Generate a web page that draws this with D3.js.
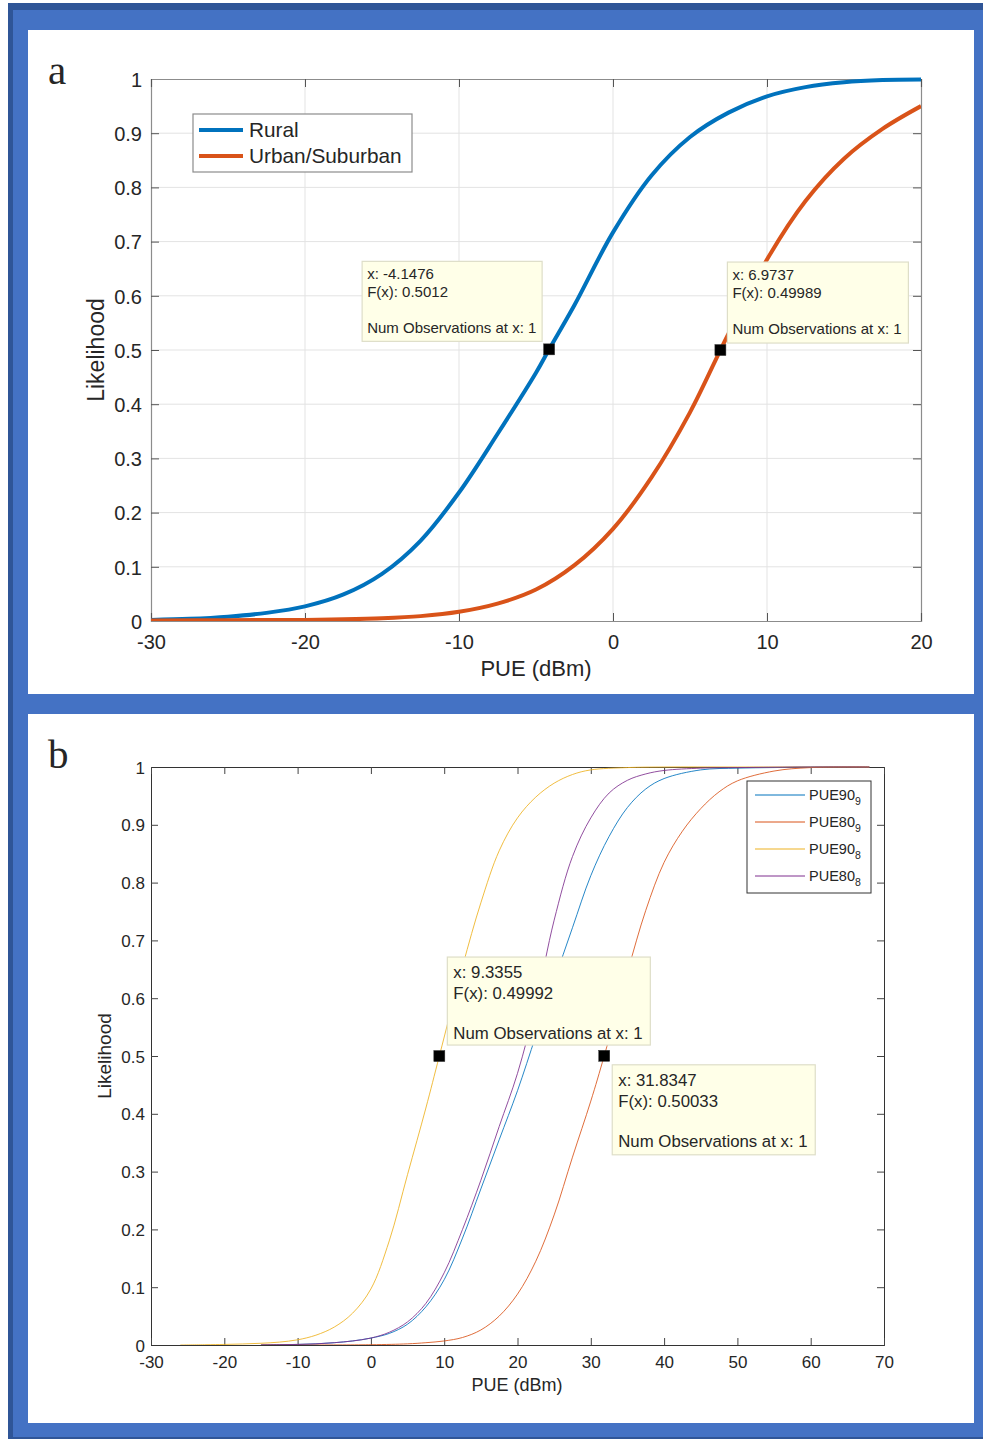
<!DOCTYPE html>
<html><head><meta charset="utf-8">
<script src="https://cdn.jsdelivr.net/npm/d3@7"></script>
<style>
html,body{margin:0;padding:0;background:#fff;}
svg{display:block;}
text{font-family:"Liberation Sans",Arial,Helvetica,sans-serif;fill:#262626;}
</style>
</head><body>
<script>
// ---- Panel a: PUE CDF by environment ----
const ruralX = [-30, -27.5, -25, -22.5, -20, -17.5, -15, -12.5, -10, -7.5, -5, -4.1476, -2.5, 0, 2.5, 5, 7.5, 10, 12.5, 15, 17.5, 20];
const ruralF = [0.002, 0.004, 0.008, 0.015, 0.027, 0.049, 0.087, 0.148, 0.237, 0.345, 0.458, 0.5012, 0.583, 0.717, 0.822, 0.893, 0.938, 0.968, 0.985, 0.994, 0.998, 0.999];
const urbanX = [-30, -25, -20, -17.5, -15, -12.5, -10, -7.5, -5, -2.5, 0, 2.5, 5, 6.9737, 7.5, 10, 12.5, 15, 17.5, 20];
const urbanF = [0.001, 0.0015, 0.002, 0.003, 0.005, 0.009, 0.017, 0.032, 0.058, 0.103, 0.17, 0.265, 0.385, 0.49989, 0.53, 0.667, 0.775, 0.853, 0.908, 0.95];
const legendA = ["Rural", "Urban/Suburban"];
const xTicksA = [-30, -20, -10, 0, 10, 20];
const yTicksA = [0, 0.1, 0.2, 0.3, 0.4, 0.5, 0.6, 0.7, 0.8, 0.9, 1];
const tipsA = [
  {x: -4.1476, f: 0.5012, lines: ["x: -4.1476", "F(x): 0.5012", "", "Num Observations at x: 1"]},
  {x: 6.9737, f: 0.49989, lines: ["x: 6.9737", "F(x): 0.49989", "", "Num Observations at x: 1"]}
];

// ---- Panel b: PUE90 / PUE80 CDFs ----
const pue90_9X = [-15, -12.5, -10, -7.5, -5, -2.5, 0, 2.5, 5, 7.5, 10, 12.5, 15, 17.5, 20, 22.5, 25, 27.5, 30, 32.5, 35, 37.5, 40, 45, 50, 55, 60, 68];
const pue90_9F = [0, 0.0005, 0.001, 0.002, 0.004, 0.007, 0.012, 0.02, 0.036, 0.066, 0.113, 0.185, 0.27, 0.355, 0.44, 0.535, 0.63, 0.722, 0.812, 0.88, 0.93, 0.962, 0.98, 0.995, 0.998, 0.999, 1, 1];
const pue80_9X = [-15, 0, 5, 7.5, 10, 12.5, 15, 17.5, 20, 22.5, 25, 27.5, 30, 31.8347, 35, 37.5, 40, 42.5, 45, 47.5, 50, 55, 60, 68];
const pue80_9F = [0, 0.0005, 0.002, 0.004, 0.007, 0.013, 0.026, 0.05, 0.088, 0.145, 0.225, 0.325, 0.422, 0.50033, 0.645, 0.752, 0.835, 0.889, 0.928, 0.957, 0.976, 0.993, 0.999, 1];
const pue90_8X = [-26, -22.5, -20, -17.5, -15, -12.5, -10, -7.5, -5, -2.5, 0, 2.5, 5, 7.5, 9.3355, 12.5, 15, 17.5, 20, 22.5, 25, 27.5, 30, 35, 40, 50, 68];
const pue90_8F = [0, 0.0005, 0.001, 0.0018, 0.003, 0.005, 0.009, 0.017, 0.031, 0.055, 0.097, 0.18, 0.295, 0.41, 0.49992, 0.655, 0.765, 0.855, 0.912, 0.948, 0.972, 0.987, 0.995, 0.999, 1, 1, 1];
const pue80_8X = [-15, -12.5, -10, -7.5, -5, -2.5, 0, 2.5, 5, 7.5, 10, 12.5, 15, 17.5, 20, 22.5, 25, 27.5, 30, 32.5, 35, 37.5, 40, 45, 50, 60, 68];
const pue80_8F = [0, 0.0005, 0.001, 0.002, 0.004, 0.007, 0.012, 0.022, 0.04, 0.072, 0.125, 0.2, 0.285, 0.378, 0.47, 0.59, 0.735, 0.845, 0.912, 0.955, 0.977, 0.988, 0.994, 0.998, 0.999, 1, 1];
const legendB = [["PUE90", "9"], ["PUE80", "9"], ["PUE90", "8"], ["PUE80", "8"]];
const xTicksB = [-30, -20, -10, 0, 10, 20, 30, 40, 50, 60, 70];
const yTicksB = [0, 0.1, 0.2, 0.3, 0.4, 0.5, 0.6, 0.7, 0.8, 0.9, 1];
const tipsB = [
  {x: 9.3355, f: 0.49992, lines: ["x: 9.3355", "F(x): 0.49992", "", "Num Observations at x: 1"]},
  {x: 31.8347, f: 0.50033, lines: ["x: 31.8347", "F(x): 0.50033", "", "Num Observations at x: 1"]}
];

const W = 983, H = 1439;
const C = {blue: "#0072BD", orange: "#D95319", yellow: "#EDB120", purple: "#7E2F8E"};
const zip = (xs, fs) => xs.map((x, i) => [x, fs[i]]);
const fmt = v => String(+v.toFixed(1));

const svg = d3.select("body").append("svg").attr("width", W).attr("height", H);
const defs = svg.append("defs");

// frame
svg.append("rect").attr("x", 8).attr("y", 3).attr("width", W - 8).attr("height", H - 3).attr("fill", "#4472C4");
svg.append("rect").attr("x", 8).attr("y", 3).attr("width", 5).attr("height", H - 3).attr("fill", "#2F5597");
svg.append("rect").attr("x", 8).attr("y", 3).attr("width", W - 8).attr("height", 7).attr("fill", "#2F5597");
svg.append("rect").attr("x", 8).attr("y", H - 2).attr("width", W - 8).attr("height", 2).attr("fill", "#2F5597");
svg.append("rect").attr("x", 28).attr("y", 30).attr("width", 946).attr("height", 664).attr("fill", "#fff");
svg.append("rect").attr("x", 28).attr("y", 714).attr("width", 946).attr("height", 709).attr("fill", "#fff");

function panelLetter(t, x, y) {
  svg.append("text").attr("x", x).attr("y", y).text(t)
    .style("font-family", "'Liberation Serif','DejaVu Serif',serif").style("font-size", "41px").attr("fill", "#111");
}

function clipFor(id, x, y) {
  defs.append("clipPath").attr("id", id).append("rect")
    .attr("x", x.range()[0]).attr("y", y.range()[1] - 2)
    .attr("width", x.range()[1] - x.range()[0]).attr("height", y.range()[0] - y.range()[1] + 2);
  return `url(#${id})`;
}

function datatip(g, sx, sy, tip, box) {
  const mx = sx(tip.x), my = sy(tip.f);
  const bx = box.side === "left" ? mx - box.gap - box.w : mx + box.gap;
  const by = my + box.dy;
  g.append("rect").attr("x", bx).attr("y", by).attr("width", box.w).attr("height", box.h)
    .attr("fill", "#FFFFE8").attr("stroke", "#DEDEC8").attr("stroke-width", 1.2);
  tip.lines.forEach((ln, i) => {
    if (!ln) return;
    g.append("text").attr("x", bx + box.pad).attr("y", by + box.base[i]).text(ln)
      .style("font-size", box.fs + "px");
  });
  g.append("rect").attr("x", mx - box.ms / 2).attr("y", my - box.ms / 2)
    .attr("width", box.ms).attr("height", box.ms).attr("fill", "#000").attr("stroke", "#333").attr("stroke-width", 0.5);
}

// ================= Panel a =================
{
  const x = d3.scaleLinear().domain([-30, 20]).range([151, 921]);
  const y = d3.scaleLinear().domain([0, 1]).range([621, 79]);
  const g = svg.append("g");
  // grid
  g.selectAll(".gx").data(xTicksA.slice(1, -1)).join("line")
    .attr("x1", d => x(d)).attr("x2", d => x(d)).attr("y1", y(0)).attr("y2", y(1))
    .attr("stroke", "#E3E3E3").attr("stroke-width", 1);
  g.selectAll(".gy").data(yTicksA.slice(1, -1)).join("line")
    .attr("x1", x(-30)).attr("x2", x(20)).attr("y1", d => y(d)).attr("y2", d => y(d))
    .attr("stroke", "#E3E3E3").attr("stroke-width", 1);

  const tk = 8;
  const axL = g.append("g").attr("transform", `translate(${x(-30)},0)`)
    .call(d3.axisLeft(y).tickValues(yTicksA).tickSize(-tk).tickFormat(fmt));
  const axR = g.append("g").attr("transform", `translate(${x(20)},0)`)
    .call(d3.axisRight(y).tickValues(yTicksA).tickSize(-tk).tickFormat(""));
  const axB = g.append("g").attr("transform", `translate(0,${y(0)})`)
    .call(d3.axisBottom(x).tickValues(xTicksA).tickSize(-tk).tickPadding(tk + 6).tickFormat(d => String(d)));
  const axT = g.append("g").attr("transform", `translate(0,${y(1)})`)
    .call(d3.axisTop(x).tickValues(xTicksA).tickSize(-tk).tickFormat(""));
  [axL, axR, axB, axT].forEach(a => {
    a.select(".domain").attr("stroke", "#8C8C8C").attr("stroke-width", 1.2);
    a.selectAll(".tick line").attr("stroke", "#555").attr("stroke-width", 1);
    a.selectAll(".tick text").style("font-size", "20px").attr("fill", "#262626")
      .style("font-family", "'Liberation Sans',Arial,sans-serif");
  });
  axL.selectAll(".tick text").attr("x", -9).attr("dy", "0.36em");

  const line = d3.line().x(d => x(d[0])).y(d => y(d[1])).curve(d3.curveCatmullRom.alpha(0.5));
  const clip = clipFor("clipA", x, y);
  g.append("path").datum(zip(ruralX, ruralF)).attr("d", line).attr("clip-path", clip)
    .attr("fill", "none").attr("stroke", C.blue).attr("stroke-width", 4).attr("stroke-linejoin", "round");
  g.append("path").datum(zip(urbanX, urbanF)).attr("d", line).attr("clip-path", clip)
    .attr("fill", "none").attr("stroke", C.orange).attr("stroke-width", 4).attr("stroke-linejoin", "round");

  // legend
  const lg = g.append("g");
  lg.append("rect").attr("x", 193).attr("y", 114).attr("width", 219).attr("height", 58)
    .attr("fill", "#fff").attr("stroke", "#8C8C8C").attr("stroke-width", 1.2);
  [C.blue, C.orange].forEach((c, i) => {
    lg.append("line").attr("x1", 199).attr("x2", 243).attr("y1", 130 + 26 * i).attr("y2", 130 + 26 * i)
      .attr("stroke", c).attr("stroke-width", 4);
    lg.append("text").attr("x", 249).attr("y", 137 + 26 * i).text(legendA[i]).style("font-size", "20.8px").attr("fill", "#111");
  });

  // labels
  g.append("text").attr("x", 536).attr("y", 676).attr("text-anchor", "middle").text("PUE (dBm)").style("font-size", "22px");
  g.append("text").attr("transform", "translate(104,350) rotate(-90)").attr("text-anchor", "middle")
    .text("Likelihood").style("font-size", "23px");

  const boxA = {w: 180, h: 80, gap: 7, dy: -88, pad: 5, fs: 15, base: [18, 36, 54, 72], ms: 11};
  datatip(g, x, y, tipsA[0], Object.assign({side: "left"}, boxA));
  datatip(g, x, y, tipsA[1], Object.assign({side: "right"}, boxA, {w: 181, h: 81}));
}
panelLetter("a", 48, 84);

// ================= Panel b =================
{
  const x = d3.scaleLinear().domain([-30, 70]).range([151, 884]);
  const y = d3.scaleLinear().domain([0, 1]).range([1345, 767]);
  const g = svg.append("g");
  const tk = 7;
  const axL = g.append("g").attr("transform", `translate(${x(-30)},0)`)
    .call(d3.axisLeft(y).tickValues(yTicksB).tickSize(-tk).tickFormat(fmt));
  const axR = g.append("g").attr("transform", `translate(${x(70)},0)`)
    .call(d3.axisRight(y).tickValues(yTicksB).tickSize(-tk).tickFormat(""));
  const axB = g.append("g").attr("transform", `translate(0,${y(0)})`)
    .call(d3.axisBottom(x).tickValues(xTicksB).tickSize(-tk).tickPadding(tk + 4).tickFormat(d => String(d)));
  const axT = g.append("g").attr("transform", `translate(0,${y(1)})`)
    .call(d3.axisTop(x).tickValues(xTicksB).tickSize(-tk).tickFormat(""));
  [axL, axR, axB, axT].forEach(a => {
    a.select(".domain").attr("stroke", "#333").attr("stroke-width", 1);
    a.selectAll(".tick line").attr("stroke", "#444").attr("stroke-width", 1);
    a.selectAll(".tick text").style("font-size", "17px").attr("fill", "#262626")
      .style("font-family", "'Liberation Sans',Arial,sans-serif");
  });
  axL.selectAll(".tick text").attr("x", -6).attr("dy", "0.36em");

  const line = d3.line().x(d => x(d[0])).y(d => y(d[1])).curve(d3.curveCatmullRom.alpha(0.5));
  const clip = clipFor("clipB", x, y);
  const series = [
    [pue90_9X, pue90_9F, C.blue],
    [pue80_9X, pue80_9F, C.orange],
    [pue90_8X, pue90_8F, C.yellow],
    [pue80_8X, pue80_8F, C.purple]
  ];
  series.forEach(([xs, fs, c]) => {
    g.append("path").datum(zip(xs, fs)).attr("d", line).attr("clip-path", clip)
      .attr("fill", "none").attr("stroke", c).attr("stroke-width", 1).attr("stroke-opacity", 0.85);
  });

  // legend
  const lg = g.append("g");
  lg.append("rect").attr("x", 747).attr("y", 781).attr("width", 124).attr("height", 112)
    .attr("fill", "#fff").attr("stroke", "#333").attr("stroke-width", 1);
  series.forEach(([, , c], i) => {
    const yy = 795 + 27 * i;
    lg.append("line").attr("x1", 755).attr("x2", 805).attr("y1", yy).attr("y2", yy)
      .attr("stroke", c).attr("stroke-width", 1);
    const t = lg.append("text").attr("x", 809).attr("y", yy + 5).style("font-size", "14.5px").attr("fill", "#111");
    t.append("tspan").text(legendB[i][0]);
    t.append("tspan").attr("dy", 5).style("font-size", "10.5px").text(legendB[i][1]);
  });

  g.append("text").attr("x", 517).attr("y", 1391).attr("text-anchor", "middle").text("PUE (dBm)").style("font-size", "18px");
  g.append("text").attr("transform", "translate(111,1056) rotate(-90)").attr("text-anchor", "middle")
    .text("Likelihood").style("font-size", "19px");

  const boxB = {w: 203, h: 88, gap: 8, pad: 6, fs: 16.8, base: [21, 42, 63, 82], ms: 11, side: "right"};
  datatip(g, x, y, tipsB[0], Object.assign({dy: -99}, boxB));
  datatip(g, x, y, tipsB[1], Object.assign({dy: 9}, boxB, {h: 90}));
}
panelLetter("b", 48, 768);
</script>
</body></html>
